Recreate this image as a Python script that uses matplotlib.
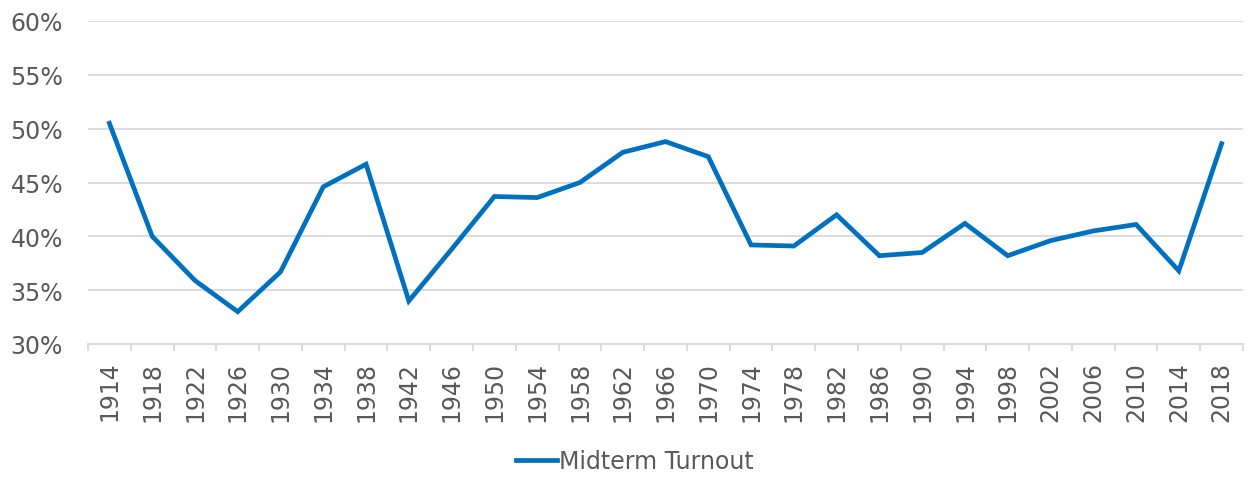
import matplotlib.pyplot as plt
from matplotlib.ticker import FuncFormatter, FixedLocator

years = [1914, 1918, 1922, 1926, 1930, 1934, 1938, 1942, 1946, 1950, 1954, 1958, 1962,
         1966, 1970, 1974, 1978, 1982, 1986, 1990, 1994, 1998, 2002, 2006, 2010, 2014, 2018]
turnout = [50.5, 40.0, 35.9, 33.0, 36.7, 44.6, 46.7, 34.0, 38.8, 43.7, 43.6, 45.0, 47.8,
           48.8, 47.4, 39.2, 39.1, 42.0, 38.2, 38.5, 41.2, 38.2, 39.6, 40.5, 41.1, 36.8, 48.6]

plt.rcParams['font.family'] = ['DejaVu Sans']
gray = '#595959'
fs = 17

fig = plt.figure(figsize=(12.55, 4.85), dpi=100)
ax = fig.add_axes([88 / 1255, 1 - 345 / 485, (1243 - 88) / 1255, (345 - 22) / 485])

# line chart over categorical years
x = list(range(len(years)))
ax.plot(x, turnout, color='#0070c0', linewidth=3.4, solid_joinstyle='miter', label='Midterm Turnout')

ax.set_xlim(-0.5, len(years) - 0.5)
ax.set_ylim(30, 60)
ax.set_yticks(range(30, 61, 5))
ax.yaxis.set_major_formatter(FuncFormatter(lambda v, p: f'{v:.0f}%'))
ax.grid(axis='y', color='#d9d9d9', linewidth=1.3)
ax.set_axisbelow(True)

ax.set_xticks(x)
ax.set_xticklabels([str(y) for y in years], rotation=90)
ax.xaxis.set_minor_locator(FixedLocator([i - 0.5 for i in range(len(years) + 1)]))
ax.tick_params(axis='x', which='major', length=0, pad=12, labelsize=fs, colors=gray)
ax.tick_params(axis='x', which='minor', length=5, color='#d9d9d9', width=1.3)
ax.tick_params(axis='y', length=0, pad=18, labelsize=fs, colors=gray)

for s in ['top', 'right', 'left']:
    ax.spines[s].set_visible(False)
ax.spines['bottom'].set_color('#d9d9d9')
ax.spines['bottom'].set_linewidth(1.3)

fig.legend(loc='center', bbox_to_anchor=(635 / 1255, 1 - 462 / 485), frameon=False,
           fontsize=fs, labelcolor=gray, handlelength=1.75, handletextpad=0.1)

fig.savefig('out.png', dpi=100)
